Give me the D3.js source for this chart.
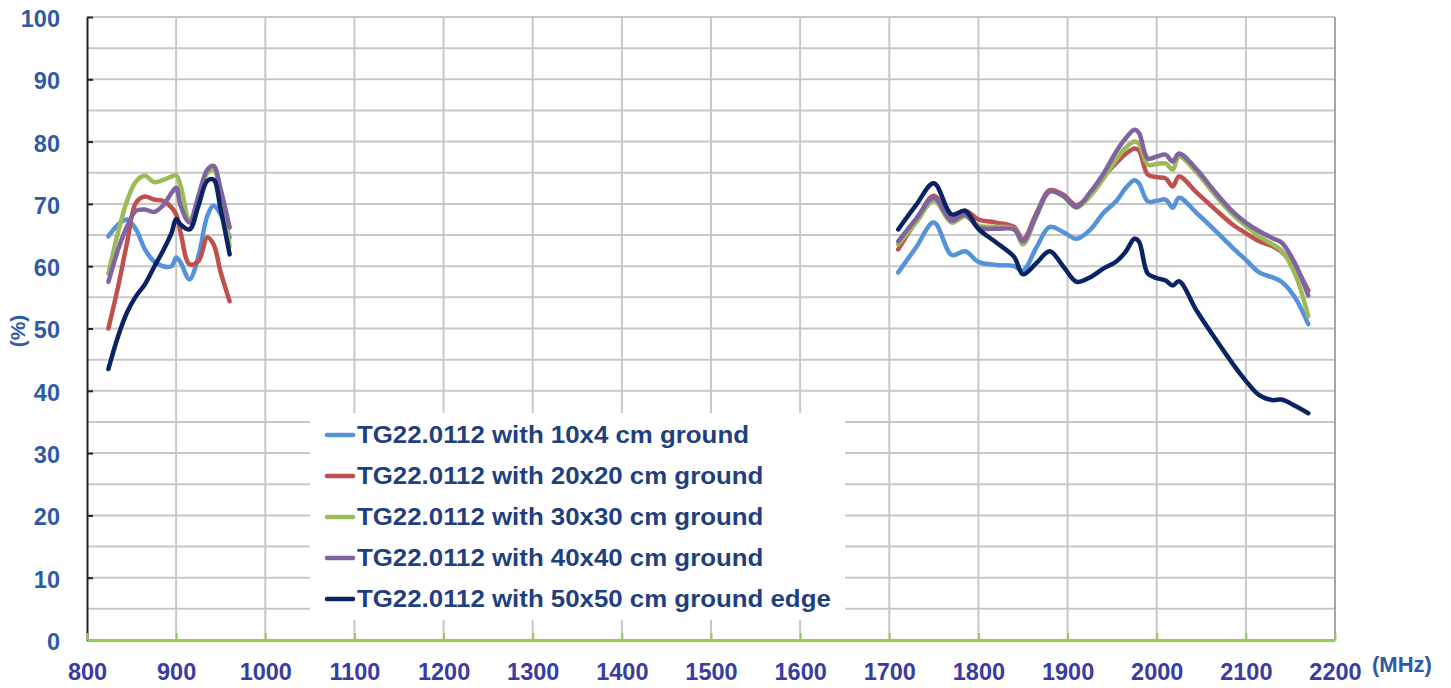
<!DOCTYPE html>
<html>
<head>
<meta charset="utf-8">
<script src="https://cdn.jsdelivr.net/npm/d3@7"></script>
<style>
  body { margin: 0; background: #fff; }
  text { font-family: "Liberation Sans", Arial, sans-serif; font-weight: bold; }
</style>
</head>
<body>
<div class="container"></div>
<script>
const w = 1451;
const h = 688;
const margin = { top: 17, bottom: 48, left: 87, right: 116 };
const width = w - margin.left - margin.right;
const height = h - margin.top - margin.bottom;

// frequencies (MHz), two measured bands
const lowFreq = [824, 835, 845, 855, 865, 875, 885, 895, 900, 905, 915, 925, 935, 942, 950, 960];
const highFreq = [1710, 1730, 1750, 1770, 1785, 1800, 1820, 1840, 1850, 1865, 1880, 1895, 1910, 1925,
  1940, 1955, 1965, 1975, 1980, 1990, 2000, 2010, 2018, 2025, 2045, 2065, 2085, 2100, 2115, 2130,
  2140, 2155, 2170];

// efficiency (%)
const g10x4Low = [64.8, 66.7, 67.5, 65.9, 62.7, 60.8, 60, 60, 61.4, 60.6, 57.9, 61.6, 68.1, 69.7, 68.3, 64.6];
const g10x4High = [59, 63, 67, 61.8, 62.4, 60.7, 60.2, 60, 59.3, 63, 66.3, 65.5, 64.4, 65.8, 68.5, 70.5,
  72.5, 73.8, 73.3, 70.4, 70.5, 70.7, 69.4, 71, 68.5, 65.8, 63, 61, 59, 58.2, 57.5, 55, 50.7];
const g20x20Low = [50, 56.8, 63.8, 70.2, 71.2, 70.7, 70.5, 69.4, 68.3, 65.4, 60.3, 60.8, 64.6, 63.5, 59, 54.4];
const g20x20High = [62.7, 67.2, 71.3, 67.5, 68.9, 67.5, 67, 66.3, 64.3, 68.5, 72.2, 71.5, 69.8, 71.5, 74.3,
  76.6, 78, 78.9, 78.6, 74.7, 74.3, 74.1, 72.8, 74.4, 71.8, 69.2, 66.7, 65.3, 64, 63.2, 62.3, 60, 56.1];
const g30x30Low = [58.8, 65.5, 70.5, 73.6, 74.5, 73.5, 73.8, 74.4, 74.6, 72.9, 67.5, 70.7, 75, 75.5, 71.8, 63.2];
const g30x30High = [63.5, 67, 70.5, 67, 68, 66.5, 66.3, 66, 63.5, 68, 72, 71.2, 69.4, 71.2, 74, 77.2,
  79, 80, 79.7, 76.3, 76.4, 76.5, 75.5, 77.6, 75, 71.5, 68.3, 66.5, 64.8, 63.5, 62.5, 58.8, 52];
const g40x40Low = [57.5, 62.7, 66.4, 68.9, 69.1, 68.7, 69.7, 71.8, 72.6, 69.7, 67, 71.3, 75.5, 76.1, 72.3, 66.2];
const g40x40High = [64, 67.6, 71, 67.3, 68.3, 66.2, 66, 65.9, 64, 68.2, 72, 71.3, 69.5, 71.8, 74.8, 78.5,
  80.5, 81.9, 81.4, 77.3, 77.6, 77.9, 76.8, 78.1, 75.5, 72, 68.8, 67, 65.6, 64.5, 63.8, 60.5, 55.3];
const g50x50Low = [43.5, 48.8, 52.6, 55.2, 57.1, 59.8, 62.4, 65.4, 67.6, 66.7, 65.9, 69.7, 73.7, 73.9, 69.1, 61.9];
const g50x50High = [65.9, 69.8, 73.3, 68.3, 68.9, 66, 63.8, 61.5, 58.7, 60.5, 62.4, 60, 57.5, 58.2, 59.6,
  60.8, 62.3, 64.4, 64, 58.8, 58.1, 57.7, 56.9, 57.6, 52.8, 48.5, 44.4, 41.6, 39.3, 38.5, 38.6, 37.6, 36.4];

const seriesNames = [
  'TG22.0112 with 10x4 cm ground',
  'TG22.0112 with 20x20 cm ground',
  'TG22.0112 with 30x30 cm ground',
  'TG22.0112 with 40x40 cm ground',
  'TG22.0112 with 50x50 cm ground edge'
];
const seriesLow = [g10x4Low, g20x20Low, g30x30Low, g40x40Low, g50x50Low];
const seriesHigh = [g10x4High, g20x20High, g30x30High, g40x40High, g50x50High];
const colors = ['#5592DA', '#C0504D', '#9BBB59', '#8064A2', '#0A2463'];

const xTicks = d3.range(800, 2201, 100);
const yTicks = d3.range(0, 101, 10);
const yGrid = d3.range(5, 101, 5);

const svg = d3.select('.container').append('svg')
  .attr('width', w)
  .attr('height', h);

const chart = svg.append('g')
  .attr('transform', `translate(${margin.left}, ${margin.top})`);

const x = d3.scaleLinear().domain([800, 2200]).range([0, width]);
const y = d3.scaleLinear().domain([0, 100]).range([height, 0]);

// gridlines
chart.append('g')
  .selectAll('line')
  .data(yGrid)
  .join('line')
  .attr('x1', 0).attr('x2', width)
  .attr('y1', d => y(d)).attr('y2', d => y(d))
  .style('stroke', '#C8C8C8').style('stroke-width', 2);

chart.append('g')
  .selectAll('line')
  .data(xTicks.slice(1))
  .join('line')
  .attr('x1', d => x(d)).attr('x2', d => x(d))
  .attr('y1', 0).attr('y2', height)
  .style('stroke', d => d === 2200 ? '#A6A6A6' : '#C8C8C8').style('stroke-width', 2);

// left axis
const yAxis = d3.axisLeft(y).tickValues(yTicks).tickSizeInner(-6).tickSizeOuter(0).tickPadding(27);
const yG = chart.append('g').call(yAxis);
yG.select('.domain').style('stroke', '#222').style('stroke-width', 2);
yG.selectAll('.tick line').style('stroke', '#222').style('stroke-width', 2);
yG.selectAll('.tick text')
  .style('font-size', '23.5px').style('fill', '#2F5BA6')
  .attr('dy', '0.4em');

// bottom axis
const xAxis = d3.axisBottom(x).tickValues(xTicks).tickFormat(d3.format('d'))
  .tickSizeInner(-7).tickSizeOuter(0).tickPadding(23);
const xG = chart.append('g').attr('transform', `translate(0, ${height})`).call(xAxis);
xG.select('.domain').style('stroke', '#92D050').style('stroke-width', 3);
xG.selectAll('.tick line').style('stroke', '#92D050').style('stroke-width', 2);
xG.selectAll('.tick text')
  .style('font-size', '23.5px').style('fill', '#3A3CA3');

svg.append('text')
  .attr('x', 1372).attr('y', 672)
  .style('font-size', '22px').style('fill', '#2F5BA6')
  .text('(MHz)');

svg.append('text')
  .attr('transform', 'translate(25, 331) rotate(-90)')
  .attr('text-anchor', 'middle')
  .style('font-size', '21px').style('fill', '#2F5BA6')
  .text('(%)');

// lines
const line = d3.line()
  .x(d => x(d[0]))
  .y(d => y(d[1]))
  .curve(d3.curveCatmullRom.alpha(0.5));

seriesNames.forEach((name, i) => {
  [[lowFreq, seriesLow[i]], [highFreq, seriesHigh[i]]].forEach(([fs, vs]) => {
    chart.append('path')
      .datum(fs.map((f, j) => [f, vs[j]]))
      .attr('d', line)
      .style('fill', 'none')
      .style('stroke', colors[i])
      .style('stroke-width', 4.5)
      .style('stroke-linejoin', 'round')
      .style('stroke-linecap', 'round');
  });
});

// legend
const legend = svg.append('g');
legend.append('rect')
  .attr('x', 310).attr('y', 413)
  .attr('width', 535).attr('height', 207)
  .style('fill', '#fff');

const rows = legend.selectAll('g.row')
  .data(seriesNames)
  .join('g')
  .attr('class', 'row')
  .attr('transform', (d, i) => `translate(327, ${435 + i * 41})`);

rows.append('line')
  .attr('x1', 0).attr('x2', 26)
  .style('stroke', (d, i) => colors[i])
  .style('stroke-width', 4.5)
  .style('stroke-linecap', 'round');

// legend text in the source is a bit wider than the font, stretch it
rows.append('text')
  .attr('transform', 'translate(30, 0) scale(1.1, 1)')
  .attr('dy', '0.36em')
  .style('font-size', '23.5px').style('fill', '#1F3F7F')
  .text(d => d);
</script>
</body>
</html>
